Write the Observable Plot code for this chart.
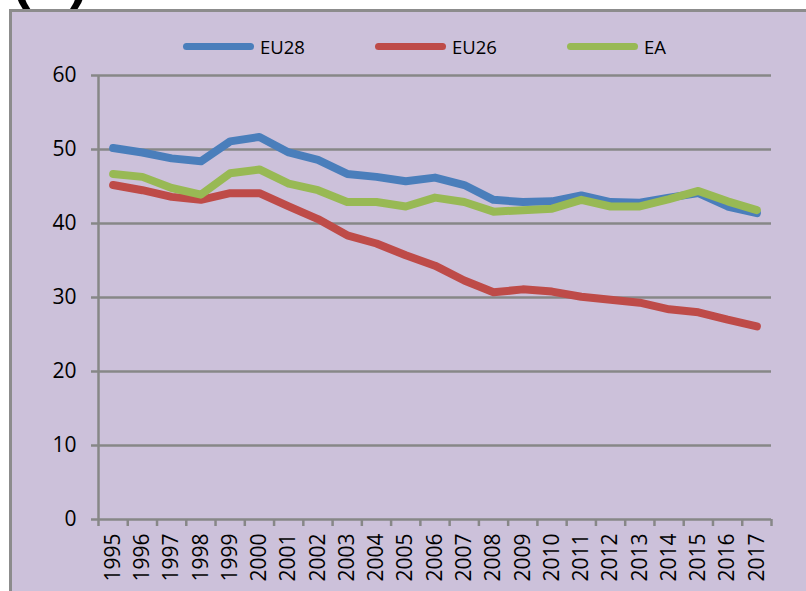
<!DOCTYPE html>
<html><head><meta charset="utf-8">
<script src="https://cdn.jsdelivr.net/npm/d3@7"></script>
<script src="https://cdn.jsdelivr.net/npm/@observablehq/plot@0.6"></script>
<style>
html,body{margin:0;padding:0;background:#fff;}
body{width:806px;height:591px;overflow:hidden;position:relative;font-family:"Open Sans",sans-serif;}
#title{position:absolute;left:12px;top:-49px;font:bold 55px/55px "Liberation Sans",sans-serif;color:#000;margin:0;}
#frame{position:absolute;left:9px;top:9px;width:900px;height:700px;border:3px solid #8c8c8c;background:#CCC1DA;}
#chart{position:absolute;left:0;top:0;}
#legend{position:absolute;left:183px;top:32px;display:flex;}
.item{width:192px;display:flex;align-items:center;font-size:18.5px;color:#000;height:28px;}
.sw{width:71px;height:7px;border-radius:4px;margin-right:6px;}
</style>
</head><body>
<div id="title">(A)</div>
<div id="frame"></div>
<div id="chart"></div>
<div id="legend"></div>
<script>
const years = [1995,1996,1997,1998,1999,2000,2001,2002,2003,2004,2005,2006,2007,2008,2009,2010,2011,2012,2013,2014,2015,2016,2017];
const seriesNames = ["EU28","EU26","EA"];
const seriesColors = ["#4A7EBB","#BE4B48","#98B954"];
const eu28 = [50.2,49.6,48.8,48.4,51.1,51.7,49.6,48.6,46.7,46.3,45.7,46.2,45.2,43.2,42.9,43.0,43.8,42.9,42.8,43.5,44.1,42.3,41.4];
const eu26 = [45.2,44.5,43.6,43.2,44.1,44.1,42.3,40.6,38.4,37.3,35.7,34.3,32.3,30.7,31.1,30.8,30.1,29.7,29.3,28.4,28.0,27.0,26.1];
const ea   = [46.7,46.3,44.8,43.9,46.8,47.3,45.4,44.5,42.9,42.9,42.3,43.5,42.9,41.6,41.8,42.0,43.2,42.3,42.3,43.3,44.4,43.0,41.8];
const yTicks = [0,10,20,30,40,50,60];

const valuesBySeries = [eu28, eu26, ea];
const data = [];
seriesNames.forEach((s, k) => years.forEach((yr, i) => data.push({series: s, year: yr, value: valuesBySeries[k][i]})));
const boundaries = [...years.map(y => y - 0.5), years[years.length-1] + 0.5];
const grid = "#878787";

const chart = Plot.plot({
  width: 806, height: 591,
  marginLeft: 98, marginRight: 35, marginTop: 75, marginBottom: 72,
  x: {domain: [1994.5, 2017.5], label: null},
  y: {domain: [0, 60], label: null},
  color: {domain: seriesNames, range: seriesColors},
  style: {background: "transparent", fontSize: "21px", fontFamily: "'Open Sans', sans-serif", color: "#000", overflow: "visible"},
  marks: [
    Plot.ruleY(yTicks, {stroke: grid, strokeWidth: 2.5, insetLeft: -7}),
    Plot.ruleX([1994.5], {stroke: grid, strokeWidth: 2.5}),
    Plot.axisY({ticks: yTicks, tickSize: 0, tickPadding: 22, fill: "#000"}),
    Plot.axisX({ticks: boundaries, tickSize: 7, tickFormat: () => "", stroke: grid, strokeWidth: 2.5}),
    Plot.axisX({ticks: years, tickSize: 0, tickPadding: 14, tickRotate: -90, tickFormat: d => String(d), fill: "#000"}),
    Plot.line(data, {x: "year", y: "value", z: "series", stroke: "series", strokeWidth: 8, strokeLinejoin: "round", strokeLinecap: "round"})
  ]
});
document.getElementById("chart").appendChild(chart);

const legend = document.getElementById("legend");
seriesNames.forEach((s, k) => {
  const it = document.createElement("div");
  it.className = "item";
  const sw = document.createElement("span");
  sw.className = "sw";
  sw.style.background = seriesColors[k];
  const t = document.createElement("span");
  t.textContent = s;
  it.appendChild(sw); it.appendChild(t);
  legend.appendChild(it);
});
</script>
</body></html>
